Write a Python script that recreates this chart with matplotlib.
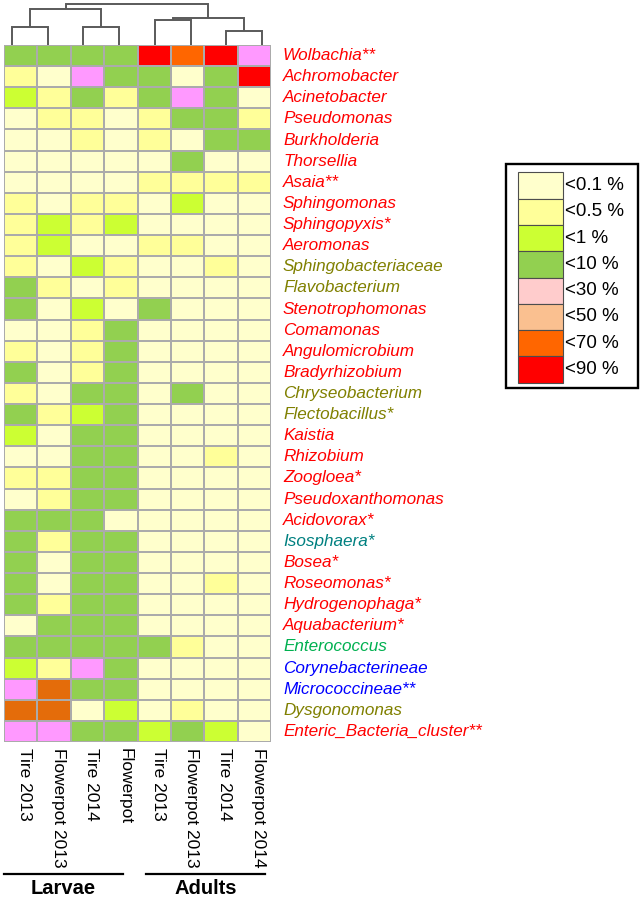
import matplotlib
matplotlib.use("Agg")
import matplotlib.pyplot as plt
import numpy as np
from matplotlib.colors import ListedColormap, BoundaryNorm
from matplotlib.patches import Rectangle
from matplotlib.lines import Line2D
from matplotlib import transforms

plt.rcParams['font.family'] = ['Liberation Sans', 'DejaVu Sans']

# ---------------- data ----------------
taxa = ["Wolbachia**", "Achromobacter", "Acinetobacter", "Pseudomonas", "Burkholderia",
        "Thorsellia", "Asaia**", "Sphingomonas", "Sphingopyxis*", "Aeromonas",
        "Sphingobacteriaceae", "Flavobacterium", "Stenotrophomonas", "Comamonas",
        "Angulomicrobium", "Bradyrhizobium", "Chryseobacterium", "Flectobacillus*",
        "Kaistia", "Rhizobium", "Zoogloea*", "Pseudoxanthomonas", "Acidovorax*",
        "Isosphaera*", "Bosea*", "Roseomonas*", "Hydrogenophaga*", "Aquabacterium*",
        "Enterococcus", "Corynebacterineae", "Micrococcineae**", "Dysgonomonas",
        "Enteric_Bacteria_cluster**"]

taxa_colors = ["#FF0000"] * 10 + ["#808000", "#808000"] + ["#FF0000"] * 4 + \
              ["#808000", "#808000"] + ["#FF0000"] * 5 + ["#008080"] + ["#FF0000"] * 4 + \
              ["#00B050", "#0000FF", "#0000FF", "#808000", "#FF0000"]

samples = ["Tire 2013", "Flowerpot 2013", "Tire 2014", "Flowerpot",
           "Tire 2013", "Flowerpot 2013", "Tire 2014", "Flowerpot 2014"]

# abundance class per sample (0:<0.1%, 1:<0.5%, 2:<1%, 3:<10%, 4:<30%, 5:<50%, 6:<70%, 7:<90%)
larvae_tire_2013      = [3,1,2,0,0,0,0,1,1,1,1,3,3,0,1,3,1,3,2,0,1,0,3,3,3,3,3,0,3,2,4,5,4]
larvae_flowerpot_2013 = [3,0,1,1,0,0,0,0,2,2,0,1,0,0,0,0,0,1,0,0,1,1,3,1,0,0,1,3,3,1,5,5,4]
larvae_tire_2014      = [3,4,3,1,1,0,0,1,1,0,2,0,2,1,1,1,3,2,3,3,3,3,3,3,3,3,3,3,3,4,3,0,3]
larvae_flowerpot      = [3,3,1,0,0,0,0,1,2,0,1,1,0,3,3,3,3,3,3,3,3,3,0,3,3,3,3,3,3,3,3,2,3]
adults_tire_2013      = [7,3,3,1,1,0,1,0,0,1,0,0,3,0,0,0,0,0,0,0,0,0,0,0,0,0,0,0,3,0,0,0,2]
adults_flowerpot_2013 = [6,0,4,3,0,3,1,2,0,1,0,0,0,0,0,0,3,0,0,0,0,0,0,0,0,0,0,0,1,0,0,1,3]
adults_tire_2014      = [7,3,3,3,3,0,1,0,0,0,1,0,0,0,0,0,0,0,0,1,0,0,0,0,0,1,0,0,0,0,0,0,2]
adults_flowerpot_2014 = [4,7,0,1,3,0,1,0,0,0,0,0,0,0,0,0,0,0,0,0,0,0,0,0,0,0,0,0,0,0,0,0,0]

heat_colors = ["#FFFFCC", "#FFFF99", "#CCFF33", "#92D050", "#FF99FF", "#E46C0A", "#FF6600", "#FF0000"]
legend_labels = ["<0.1 %", "<0.5 %", "<1 %", "<10 %", "<30 %", "<50 %", "<70 %", "<90 %"]
legend_colors = ["#FFFFCC", "#FFFF99", "#CCFF33", "#92D050", "#FFCCCC", "#FAC090", "#FF6600", "#FF0000"]

# dendrogram merges (leaf ids 0-7, new cluster ids 8.., heights)
merge_left   = [0, 2, 4, 6, 8, 10, 12]
merge_right  = [1, 3, 5, 7, 9, 11, 13]
merge_height = [18.0, 17.7, 25.5, 14.3, 36.5, 26.7, 40.7]

groups = ["Larvae", "Adults"]

# ---------------- figure ----------------
W, H = 642, 900
fig = plt.figure(figsize=(W / 100, H / 100), dpi=100)


def ax_px(x0, y0, x1, y1):
    return fig.add_axes([x0 / W, 1 - y1 / H, (x1 - x0) / W, (y1 - y0) / H])


# heatmap
ax = ax_px(4, 45, 271, 742)
mat = np.array([larvae_tire_2013, larvae_flowerpot_2013, larvae_tire_2014, larvae_flowerpot,
                adults_tire_2013, adults_flowerpot_2013, adults_tire_2014, adults_flowerpot_2014]).T
cmap = ListedColormap(heat_colors)
norm = BoundaryNorm(np.arange(-0.5, 8.5, 1), cmap.N)
ax.pcolormesh(np.arange(mat.shape[1] + 1), np.arange(mat.shape[0] + 1), mat,
              cmap=cmap, norm=norm, edgecolors="#ABABAB", linewidth=1.2)
ax.set_xlim(0, mat.shape[1])
ax.set_ylim(mat.shape[0], 0)
ax.axis("off")

# row labels
tr_rows = transforms.blended_transform_factory(fig.transFigure, ax.transData)
for i, (t, c) in enumerate(zip(taxa, taxa_colors)):
    ax.text(283 / W, i + 0.5, t, transform=tr_rows, color=c, fontsize=12.3,
            style="italic", ha="left", va="center", clip_on=False)

# column labels
tr_cols = transforms.offset_copy(ax.transData, fig=fig, x=4, y=-6, units="dots")
for j, s in enumerate(samples):
    ax.text(j + 0.5, mat.shape[0], s, transform=tr_cols, rotation=270,
            ha="center", va="top", fontsize=12.5, color="black", clip_on=False)

# dendrogram
dax = ax_px(12 - 17.85, 0, 262 + 17.85, 45)
dax.set_xlim(0, 8)
dax.set_ylim(0, 45)
dax.axis("off")
pos = {k: k + 0.5 for k in range(8)}
hgt = {k: 0.0 for k in range(8)}
for n, (a, b, h) in enumerate(zip(merge_left, merge_right, merge_height)):
    xa, xb = pos[a], pos[b]
    dax.plot([xa, xa, xb, xb], [hgt[a], h, h, hgt[b]], color="#5A5A5A", lw=1.4,
             solid_capstyle="butt", solid_joinstyle="miter")
    pos[8 + n] = (xa + xb) / 2
    hgt[8 + n] = h

# group lines and labels
for (x0, x1), g in zip([(4, 123), (146, 265)], groups):
    fig.add_artist(Line2D([x0 / W, x1 / W], [1 - 874 / H] * 2, color="black", lw=1.6))
    fig.text((x0 + x1) / 2 / W, 1 - 889 / H, g, ha="center", va="center",
             fontsize=14.5, fontweight="bold")

# legend
fig.add_artist(Rectangle((505.7 / W, 1 - 388 / H), 132 / W, 224 / H,
                         transform=fig.transFigure, fill=False, edgecolor="black", lw=1.7))
sh = 26.3
for k, (lab, col) in enumerate(zip(legend_labels, legend_colors)):
    y0 = 172.3 + k * sh
    fig.add_artist(Rectangle((517.5 / W, 1 - (y0 + sh) / H), 45.2 / W, sh / H,
                             transform=fig.transFigure, facecolor=col,
                             edgecolor="#4D4D4D", lw=0.8))
    fig.text(565 / W, 1 - (y0 + sh / 2) / H, lab, ha="left", va="center", fontsize=13.5)

fig.savefig("out.png", dpi=100)
